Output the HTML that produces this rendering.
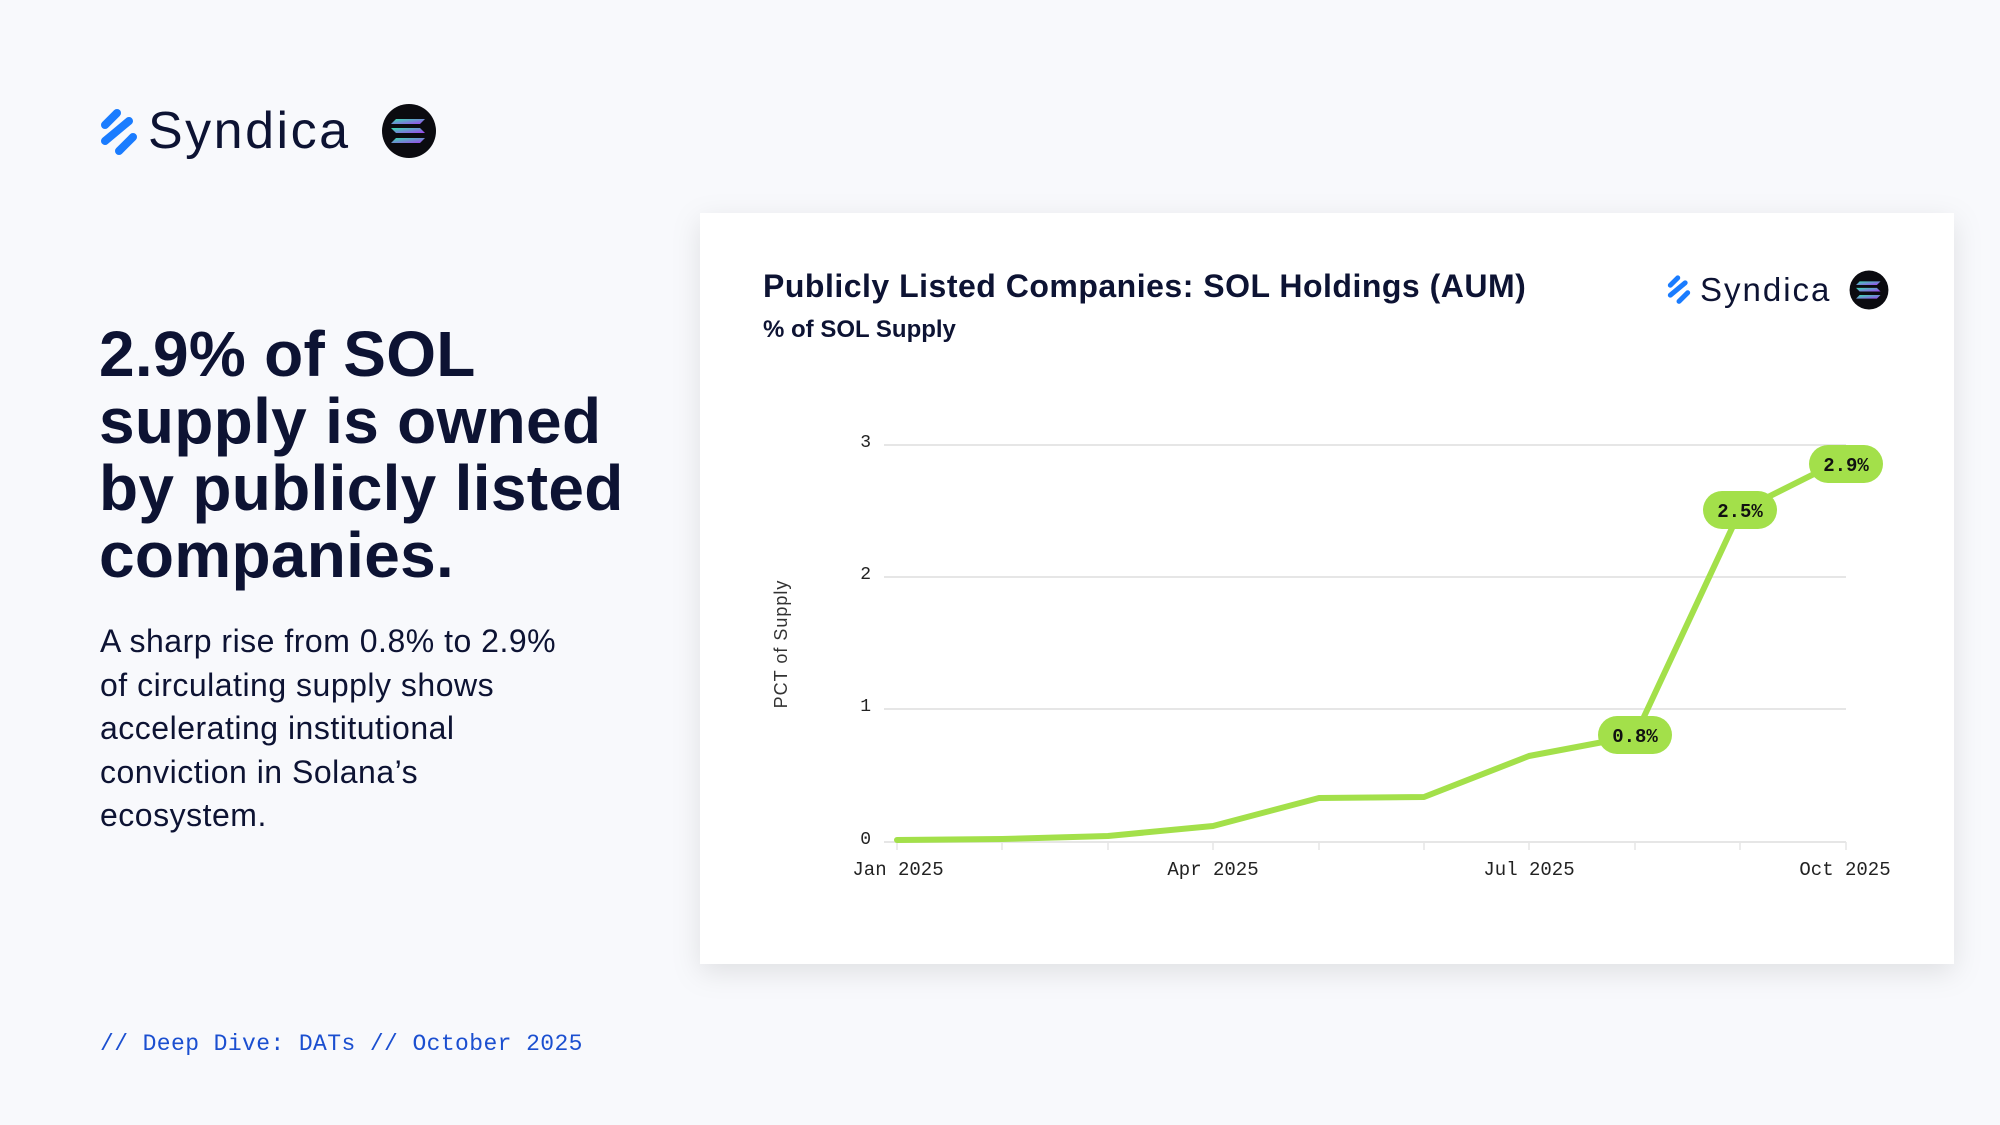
<!DOCTYPE html>
<html><head><meta charset="utf-8"><style>
html,body{margin:0;padding:0;width:2000px;height:1125px;overflow:hidden;background:#f8f9fc;}
svg{display:block}
</style></head><body>
<svg width="2000" height="1125" viewBox="0 0 2000 1125" xmlns="http://www.w3.org/2000/svg">
<defs>
<filter id="sh" x="-10%" y="-10%" width="120%" height="125%"><feDropShadow dx="0" dy="8" stdDeviation="14" flood-color="#000" flood-opacity="0.10"/></filter>
<linearGradient id="sg" x1="0" y1="0" x2="1" y2="1"><stop offset="0" stop-color="#38e0b0"/><stop offset="1" stop-color="#a040f0"/></linearGradient>
<g id="ico">
<g stroke="#1a7cff" stroke-linecap="round" fill="none">
<line x1="-14" y1="-6" x2="-2" y2="-18" stroke-width="8"/>
<line x1="-14" y1="10" x2="10" y2="-10" stroke-width="8"/>
<line x1="0" y1="20" x2="14" y2="6" stroke-width="8"/>
</g>
</g>
<g id="sol">
<circle r="27" fill="#0b0b10"/>
<path d="M-13,-12 H16 L11,-7 H-18 Z" fill="url(#sg)"/>
<path d="M-18,-3 H11 L16,2 H-13 Z" fill="url(#sg)"/>
<path d="M-13,7 H16 L11,12 H-18 Z" fill="url(#sg)"/>
</g>
</defs>
<rect width="2000" height="1125" fill="#f8f9fc"/>
<use href="#ico" x="119" y="131"/>
<text x="148" y="148" font-family="Liberation Sans, sans-serif" font-size="52" fill="#0d1333" letter-spacing="2.5">Syndica</text>
<use href="#sol" x="409" y="131"/>
<g font-family="Liberation Sans, sans-serif" font-weight="bold" font-size="64" fill="#0d1333" letter-spacing="0.3">
<text x="99" y="376">2.9% of SOL</text>
<text x="99" y="443">supply is owned</text>
<text x="99" y="510">by publicly listed</text>
<text x="99" y="577">companies.</text>
</g>
<g font-family="Liberation Sans, sans-serif" font-size="32" fill="#0d1333" letter-spacing="0.5">
<text x="100" y="652">A sharp rise from 0.8% to 2.9%</text>
<text x="100" y="696">of circulating supply shows</text>
<text x="100" y="739">accelerating institutional</text>
<text x="100" y="783">conviction in Solana’s</text>
<text x="100" y="826">ecosystem.</text>
</g>
<text x="100" y="1050" font-family="Liberation Mono, monospace" font-size="23" fill="#1b4fd0" letter-spacing="0.4">// Deep Dive: DATs // October 2025</text>
<rect x="700" y="213" width="1254" height="751" fill="#fff" filter="url(#sh)"/>
<text x="763" y="297" font-family="Liberation Sans, sans-serif" font-weight="bold" font-size="32" fill="#0d1333" letter-spacing="0.5">Publicly Listed Companies: SOL Holdings (AUM)</text>
<text x="763" y="337" font-family="Liberation Sans, sans-serif" font-weight="bold" font-size="24" fill="#0d1333">% of SOL Supply</text>
<g transform="translate(1679,289) scale(0.62)"><use href="#ico"/></g>
<text x="1700" y="301" font-family="Liberation Sans, sans-serif" font-size="33" fill="#0d1333" letter-spacing="2">Syndica</text>
<g transform="translate(1869,290) scale(0.72)"><use href="#sol"/></g>
<g stroke="#e6e6e6" stroke-width="2">
<line x1="884" y1="445" x2="1846" y2="445"/>
<line x1="884" y1="577" x2="1846" y2="577"/>
<line x1="884" y1="709" x2="1846" y2="709"/>
<line x1="884" y1="842" x2="1846" y2="842"/>
</g>
<g stroke="#e6e6e6" stroke-width="1.5">
<line x1="897" y1="842" x2="897" y2="850"/><line x1="1002" y1="842" x2="1002" y2="850"/><line x1="1108" y1="842" x2="1108" y2="850"/><line x1="1213" y1="842" x2="1213" y2="850"/><line x1="1319" y1="842" x2="1319" y2="850"/><line x1="1424" y1="842" x2="1424" y2="850"/><line x1="1529" y1="842" x2="1529" y2="850"/><line x1="1635" y1="842" x2="1635" y2="850"/><line x1="1740" y1="842" x2="1740" y2="850"/><line x1="1846" y1="842" x2="1846" y2="850"/>
</g>
<g font-family="Liberation Mono, monospace" font-size="18" fill="#222" text-anchor="end">
<text x="871" y="447">3</text><text x="871" y="579">2</text><text x="871" y="711">1</text><text x="871" y="844">0</text>
</g>
<g font-family="Liberation Mono, monospace" font-size="19" fill="#222" text-anchor="middle">
<text x="898" y="875">Jan 2025</text><text x="1213" y="875">Apr 2025</text><text x="1529" y="875">Jul 2025</text><text x="1845" y="875">Oct 2025</text>
</g>
<text transform="translate(787,644) rotate(-90)" font-family="Liberation Sans, sans-serif" font-size="18" fill="#333" text-anchor="middle" letter-spacing="1">PCT of Supply</text>
<polyline points="897,840 1002,839 1108,836 1213,826 1319,798 1424,797 1529,756 1635,736 1740,511 1846,458" fill="none" stroke="#a3e04a" stroke-width="6" stroke-linejoin="round" stroke-linecap="round"/>
<g font-family="Liberation Mono, monospace" font-weight="bold" font-size="19" fill="#111" text-anchor="middle">
<rect x="1598" y="716" width="74" height="38" rx="19" fill="#a3e04a"/><text x="1635" y="742">0.8%</text>
<rect x="1703" y="491" width="74" height="38" rx="19" fill="#a3e04a"/><text x="1740" y="517">2.5%</text>
<rect x="1809" y="445" width="74" height="38" rx="19" fill="#a3e04a"/><text x="1846" y="471">2.9%</text>
</g>
</svg>
</body></html>
